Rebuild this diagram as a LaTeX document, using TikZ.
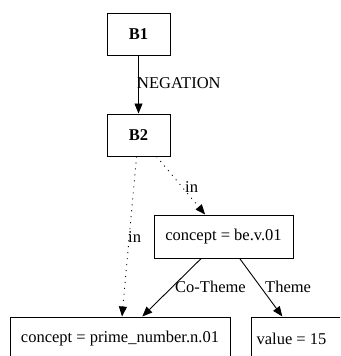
\documentclass[tikz,border=0pt]{standalone}
\usepackage{fontspec}
\setmainfont{Liberation Serif}
\usetikzlibrary{arrows.meta}

\tikzset{
  dbox/.style={draw,line width=1pt,rectangle,inner sep=0pt,font=\fontsize{16.5}{19}\selectfont},
  elab/.style={anchor=west,inner sep=0pt,font=\fontsize{16.5}{19}\selectfont},
  dedge/.style={line width=0.9pt,-{Triangle[length=10pt,width=8pt]}},
  inedge/.style={dedge,dash pattern=on 1pt off 5pt}
}

\begin{document}
\begin{tikzpicture}[x=1pt,y=1pt,yscale=-1,xscale=1]
\clip (0,0) rectangle (340,356);
\fill[white] (0,0) rectangle (340,356);
% boxes
\node[dbox,minimum width=63pt,minimum height=42pt] (b1) at (138.5,34) {\textbf{B1}};
\node[dbox,minimum width=63pt,minimum height=42pt] (b2) at (138.5,135) {\textbf{B2}};
\node[dbox,minimum width=139pt,minimum height=43pt] (be) at (223.5,236.5) {concept = be.v.01};
\node[dbox,minimum width=220pt,minimum height=43pt] (prime) at (120,338.5) {concept = prime\_number.n.01};
\node[dbox,minimum width=95pt,minimum height=43pt] (val) at (298.5,338.5) {\hspace*{-14pt}value = 15};
% edges
\draw[dedge] (b1) -- (b2);
\draw[inedge] (b2) -- (be);
\draw[inedge] (b2) -- (prime);
\draw[dedge] (be) -- (prime);
\draw[dedge] (be) -- (val);
% labels
\node[elab] (lneg) at (137,83) {NEGATION};
\node[elab] (lin1) at (185,187) {in};
\node[elab] (lin2) at (128,237) {in};
\node[elab] (lco) at (175,287) {Co-Theme};
\node[elab] (lth) at (265,287) {Theme};
\end{tikzpicture}
\end{document}
